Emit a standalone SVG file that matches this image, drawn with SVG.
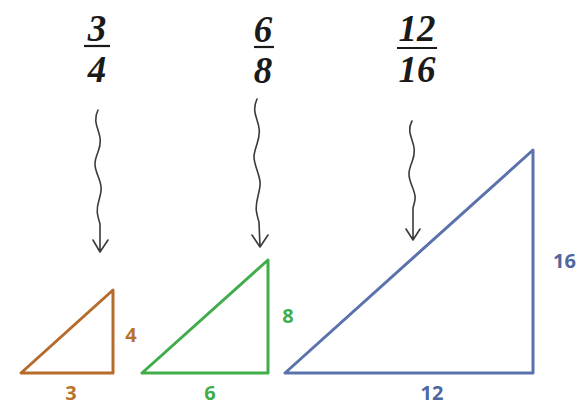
<svg xmlns="http://www.w3.org/2000/svg" width="577" height="406" viewBox="0 0 577 406">
<style>
.frac{font-family:"Liberation Serif","DejaVu Serif",serif;font-weight:bold;font-style:italic;font-size:37px;fill:#1a1a1a;text-anchor:middle}
.bar{stroke:#1a1a1a;stroke-width:2.2}
.sq{fill:none;stroke:#3a3a3a;stroke-width:1.6;stroke-linecap:round;stroke-linejoin:round}
.tri{fill:none;stroke-width:3;stroke-linejoin:round}
.lbl{font-family:"Open Sans","DejaVu Sans",sans-serif;font-weight:bold;font-size:20px;text-anchor:middle}
.o{stroke:#b56b2c}.ot{fill:#b8732c}
.g{stroke:#40ad4a}.gt{fill:#3fae49}
.b{stroke:#5a73ad}.bt{fill:#4f67a0}
</style>
<rect width="577" height="406" fill="#ffffff"/>
<g id="frac-3-4">
<text class="frac" x="97" y="41">3</text>
<line class="bar" x1="84" y1="46" x2="110" y2="46"/>
<text class="frac" x="97" y="82">4</text>
</g>
<g id="frac-6-8">
<text class="frac" x="263" y="42">6</text>
<line class="bar" x1="254" y1="47" x2="274" y2="47"/>
<text class="frac" x="263" y="83">8</text>
</g>
<g id="frac-12-16">
<text class="frac" x="417" y="41">12</text>
<line class="bar" x1="397" y1="48" x2="437" y2="48"/>
<text class="frac" x="417" y="82">16</text>
</g>
<g id="connectors">
<path class="sq" d="M98,110 C94,118 96,124 98,130 S102,142 98,152 S94,166 98,176 S102,190 99,200 S97,214 100,224 L100,252 M93,240 L100,252 L108,240"/>
<path class="sq" d="M257,99 C253,108 255,114 257,120 S261,132 257,144 S253,158 257,170 S261,184 258,196 S256,212 259,222 L260,247 M252,235 L260,247 L268,235"/>
<path class="sq" d="M412,121 C408,128 410,134 412,140 S416,152 412,162 S408,176 412,186 S416,198 413,208 L413,240 M406,229 L413,240 L420,229"/>
</g>
<g id="tri-small">
<path class="tri o" d="M21,373 L113,373 L113,290 Z"/>
<text class="lbl ot" x="71" y="400">3</text>
<text class="lbl ot" x="131" y="342">4</text>
</g>
<g id="tri-medium">
<path class="tri g" d="M142,373 L268,373 L268,260 Z"/>
<text class="lbl gt" x="210" y="400">6</text>
<text class="lbl gt" x="288" y="323">8</text>
</g>
<g id="tri-large">
<path class="tri b" d="M285,373 L533,373 L533,150 Z"/>
<text class="lbl bt" x="432" y="400">12</text>
<text class="lbl bt" x="553" y="268" style="text-anchor:start">16</text>
</g>
</svg>
